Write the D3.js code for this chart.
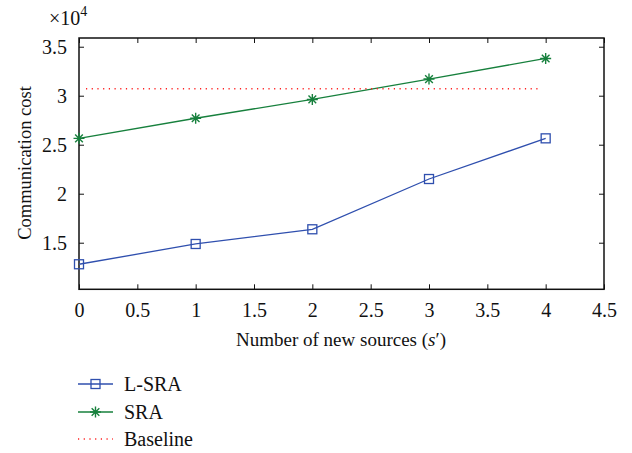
<!DOCTYPE html>
<html><head><meta charset="utf-8">
<script src="https://cdn.jsdelivr.net/npm/d3@7"></script>
<style>body{margin:0;background:#fff}svg{display:block}</style>
</head><body>
<script>
const xValues = [0, 1, 2, 3, 4];
const lsra = [1.28, 1.487, 1.637, 2.15, 2.565];
const sra = [2.565, 2.77, 2.962, 3.17, 3.38];
const baselineX = [0.06, 3.96];
const baselineY = [3.071, 3.071];
const xTicks = [0, 0.5, 1, 1.5, 2, 2.5, 3, 3.5, 4, 4.5];
const yTicks = [1.5, 2, 2.5, 3, 3.5];
const seriesNames = ["L-SRA", "SRA", "Baseline"];
const colors = ["#2f4fae", "#17803d", "#ff2020"];
const FONT = "Liberation Serif";

const W = 632, H = 453;
const m = {l: 79, r: 604, t: 38, b: 289.3};
const svg = d3.select("body").append("svg").attr("width", W).attr("height", H)
  .attr("font-family", FONT);
const x = d3.scaleLinear().domain([0, 4.5]).range([m.l, m.r]);
const y = d3.scaleLinear().domain([1.0245, 3.589]).range([m.b, m.t]);

const fmt = d => String(d);
function clean(g) { g.attr("font-family", FONT); g.select(".domain").remove(); g.selectAll("line").attr("stroke", "#111"); }
svg.append("g").attr("transform", `translate(0,${m.b})`)
  .call(d3.axisBottom(x).tickValues(xTicks).tickSize(-5).tickPadding(14).tickFormat(fmt))
  .call(g => { clean(g); g.selectAll("text").attr("font-size", 20).attr("dy", "0.71em"); });
svg.append("g").attr("transform", `translate(0,${m.t})`)
  .call(d3.axisTop(x).tickValues(xTicks).tickSize(-5).tickFormat(""))
  .call(clean);
svg.append("g").attr("transform", `translate(${m.l},0)`)
  .call(d3.axisLeft(y).tickValues(yTicks).tickSize(-5).tickPadding(12).tickFormat(fmt))
  .call(g => { clean(g); g.selectAll("text").attr("font-size", 20); });
svg.append("g").attr("transform", `translate(${m.r},0)`)
  .call(d3.axisRight(y).tickValues(yTicks).tickSize(-5).tickFormat(""))
  .call(clean);
svg.append("rect").attr("x", m.l).attr("y", m.t).attr("width", m.r - m.l).attr("height", m.b - m.t)
  .attr("fill", "none").attr("stroke", "#111").attr("stroke-width", 1.5);

const ex = svg.append("text").attr("x", 49).attr("y", 25).attr("font-size", 20);
ex.append("tspan").text("×10");
ex.append("tspan").attr("font-size", 14).attr("dy", -9).text("4");

svg.append("text").attr("transform", `translate(31,${163}) rotate(-90)`).attr("text-anchor", "middle")
  .attr("font-size", 18.5).text("Communication cost");
const xl = svg.append("text").attr("x", 341).attr("y", 346).attr("text-anchor", "middle").attr("font-size", 19);
xl.append("tspan").text("Number of new sources (");
xl.append("tspan").attr("font-style", "italic").text("s");
xl.append("tspan").text("′)");

const line = d3.line().x((d, i) => x(xValues[i])).y(d => y(d));
svg.append("path").datum(lsra).attr("d", line).attr("fill", "none").attr("stroke", colors[0]).attr("stroke-width", 1.3);
svg.append("path").datum(sra).attr("d", line).attr("fill", "none").attr("stroke", colors[1]).attr("stroke-width", 1.3);
svg.append("path").datum(baselineY).attr("d", d3.line().x((d, i) => x(baselineX[i])).y(d => y(d)))
  .attr("fill", "none").attr("stroke", colors[2]).attr("stroke-width", 1.3).attr("stroke-dasharray", "1.2,4.5");

function square(g, cx, cy, c) {
  g.append("rect").attr("x", cx - 4.5).attr("y", cy - 4.5).attr("width", 9).attr("height", 9)
    .attr("fill", "none").attr("stroke", c).attr("stroke-width", 1.3);
}
function star(g, cx, cy, c) {
  const r = 5.5;
  const p = `M${cx - r},${cy}H${cx + r}M${cx},${cy - r}V${cy + r}M${cx - r * 0.7},${cy - r * 0.7}L${cx + r * 0.7},${cy + r * 0.7}M${cx - r * 0.7},${cy + r * 0.7}L${cx + r * 0.7},${cy - r * 0.7}`;
  g.append("path").attr("d", p).attr("stroke", c).attr("stroke-width", 1.4).attr("fill", "none");
}
const mk = svg.append("g");
lsra.forEach((v, i) => square(mk, x(xValues[i]), y(v), colors[0]));
sra.forEach((v, i) => star(mk, x(xValues[i]), y(v), colors[1]));

const ly = [384, 412, 439];
const lg = svg.append("g");
seriesNames.forEach((n, i) => {
  const l = lg.append("line").attr("x1", 78).attr("x2", 113).attr("y1", ly[i]).attr("y2", ly[i])
    .attr("stroke", colors[i]).attr("stroke-width", 1.3);
  if (i === 2) l.attr("stroke-dasharray", "1.2,4.5");
  if (i === 0) square(lg, 95.5, ly[i], colors[0]);
  if (i === 1) star(lg, 95.5, ly[i], colors[1]);
  lg.append("text").attr("x", 124).attr("y", ly[i]).attr("dy", "0.35em").attr("font-size", 20).text(n);
});

svg.selectAll("text").attr("font-family", FONT).attr("fill", "#111");
</script>
</body></html>
